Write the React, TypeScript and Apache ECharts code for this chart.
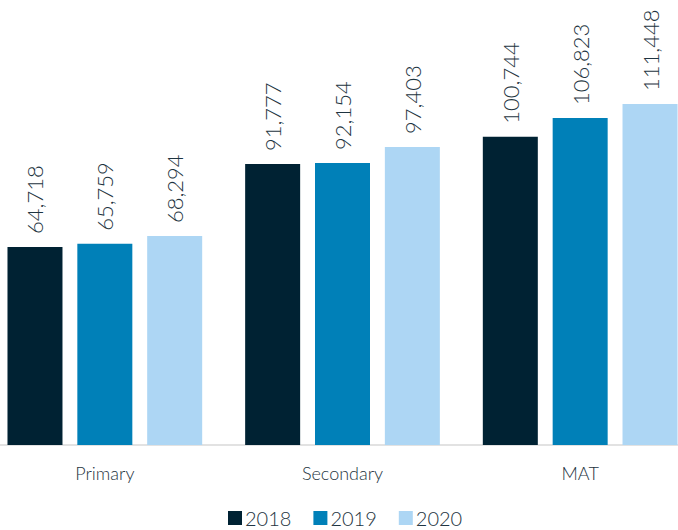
import React, { useEffect, useRef } from "react";
import * as echarts from "echarts";

const categories = ["Primary", "Secondary", "MAT"];
const seriesNames = ["2018", "2019", "2020"];
const values2018 = [64718, 91777, 100744];
const values2019 = [65759, 92154, 106823];
const values2020 = [68294, 97403, 111448];
const colors = ["#002233", "#0080b8", "#add6f4"];

export default function App() {
  const ref = useRef<HTMLDivElement>(null);
  useEffect(() => {
    const chart = echarts.init(ref.current!, null, { renderer: "svg" });
    const font = "Lato";
    const textColor = "#1e3441";
    const all = [values2018, values2019, values2020];
    chart.setOption({
      animation: false,
      grid: { left: 0, width: 713, top: 0, height: 445, containLabel: false },
      legend: {
        data: seriesNames,
        left: 237,
        top: 503,
        itemWidth: 14,
        itemHeight: 14,
        itemGap: 22,
        icon: "rect",
        textStyle: { fontFamily: font, fontWeight: 300, fontSize: 20, color: textColor, padding: [0, 0, 0, -2] },
      },
      xAxis: {
        type: "category",
        data: categories,
        axisLine: { show: true, lineStyle: { color: "#d9d9d9", width: 1.5 } },
        axisTick: { show: false },
        axisLabel: { fontFamily: font, fontWeight: 300, fontSize: 18, color: textColor, margin: 19 },
      },
      yAxis: {
        type: "value",
        min: 0,
        max: 145400,
        show: false,
        splitLine: { show: false },
      },
      series: seriesNames.map((name, i) => ({
        name,
        type: "bar",
        data: all[i],
        barWidth: 55,
        barGap: "27%",
        itemStyle: { color: colors[i] },
        label: {
          show: true,
          position: "top",
          rotate: 90,
          align: "left",
          verticalAlign: "middle",
          distance: 13,
          fontFamily: font,
          fontWeight: 300,
          fontSize: 22,
          color: textColor,
          formatter: (p: any) => p.value.toLocaleString("en-US"),
        },
      })),
    });
    return () => chart.dispose();
  }, []);
  return (
    <div style={{ position: "absolute", left: 0, top: 0, width: 678, height: 530, overflow: "hidden" }}>
      <div ref={ref} style={{ width: 713, height: 530, position: "absolute", left: -14, top: 0 }} />
    </div>
  );
}
